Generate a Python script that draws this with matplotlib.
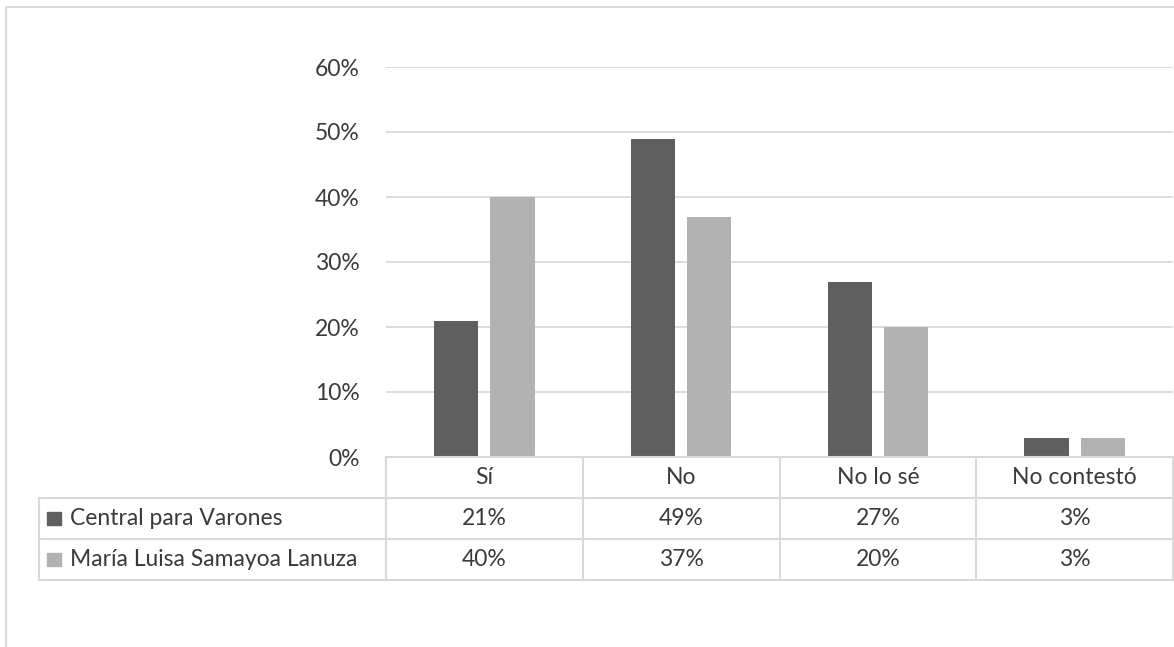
import matplotlib
matplotlib.use("Agg")
import matplotlib.pyplot as plt
from matplotlib.patches import Rectangle
from matplotlib.lines import Line2D

categories = ["Sí", "No", "No lo sé", "No contestó"]
series_names = ["Central para Varones", "María Luisa Samayoa Lanuza"]
central = [21, 49, 27, 3]
maria = [40, 37, 20, 3]
yticks = [0, 10, 20, 30, 40, 50, 60]

colors = ["#5f5f5f", "#b2b2b2"]
grid_c = "#d9d9d9"
text_c = "#3a3a3a"
plt.rcParams['font.family'] = ['Lato', 'DejaVu Sans']

W, H = 1174, 647
fig = plt.figure(figsize=(W / 100, H / 100), dpi=100)

def fx(px):
    return px / W

def fy(py):
    return 1 - py / H

# outer chart border
fig.patches.append(Rectangle((fx(6), fy(700)), fx(1300), fy(7) - fy(700),
                             transform=fig.transFigure, fill=False,
                             edgecolor=grid_c, linewidth=1.5))

L, R, T, B = 386, 1173, 67, 457
ax = fig.add_axes([fx(L), fy(B), fx(R) - fx(L), fy(T) - fy(B)])
ax.set_xlim(-0.5, 3.5)
ax.set_ylim(0, 60)
for s in ax.spines.values():
    s.set_visible(False)
fs = 16.5
ax.set_yticks(yticks)
ax.set_yticklabels([f"{v}%" for v in yticks])
ax.tick_params(axis='y', length=0, pad=19, labelsize=fs, labelcolor=text_c)
ax.set_xticks([])
ax.yaxis.grid(True, color=grid_c, linewidth=1.3)
ax.set_axisbelow(True)

bw = 0.224
off = 0.143
xs = list(range(len(categories)))
ax.bar([x - off for x in xs], central, width=bw, color=colors[0], zorder=3)
ax.bar([x + off for x in xs], maria, width=bw, color=colors[1], zorder=3)

# data table
TL, TB = 39, 580
tax = fig.add_axes([fx(TL), fy(TB), fx(R) - fx(TL), fy(B) - fy(TB)])
unit = (R - L) / 4.0
tax.set_xlim(-0.5 - (L - TL) / unit, 3.5)
tax.set_ylim(3, 0)
tax.axis('off')
x0 = -0.5 - (L - TL) / unit
lk = dict(color=grid_c, linewidth=1.5, clip_on=False)
tax.add_line(Line2D([-0.5, 3.5], [0, 0], **lk))
for r in (1, 2, 3):
    tax.add_line(Line2D([x0, 3.5], [r, r], **lk))
tax.add_line(Line2D([x0, x0], [1, 3], **lk))
for c in range(len(categories) + 1):
    tax.add_line(Line2D([c - 0.5, c - 0.5], [0, 3], **lk))

for i, cat in enumerate(categories):
    tax.text(i, 0.5, cat, ha='center', va='center', fontsize=fs, color=text_c)
for r, (name, vals) in enumerate(zip(series_names, [central, maria])):
    for i, v in enumerate(vals):
        tax.text(i, r + 1.5, f"{v}%", ha='center', va='center', fontsize=fs, color=text_c)
    key_x = x0 + 8 / unit
    ks = 14 / unit
    tax.add_patch(Rectangle((key_x, r + 1.5 - 0.17), ks, 0.34, color=colors[r], clip_on=False))
    tax.text(x0 + 31 / unit, r + 1.5, name, ha='left', va='center', fontsize=fs, color=text_c)

fig.savefig("out.png", dpi=100)
